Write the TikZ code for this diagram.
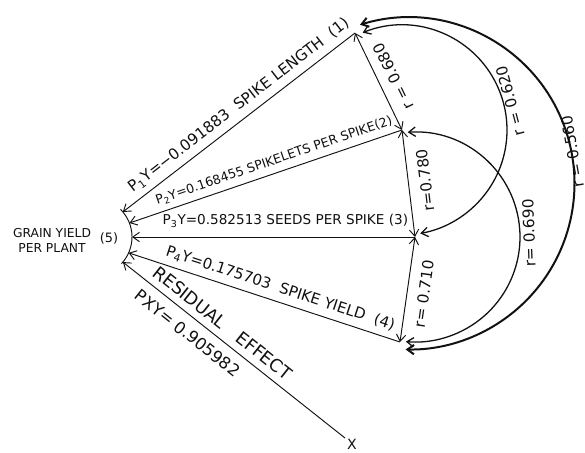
\documentclass[tikz,border=0pt]{standalone}
\usepackage{fontspec}
\setmainfont{DejaVu Sans}
\usetikzlibrary{arrows.meta, calc}
\definecolor{cink}{HTML}{111111}
\newcommand{\fsz}[2]{\fontsize{#1}{#2}\selectfont}
\tikzset{
  every picture/.style={line width=0.8pt},
  path arrow/.style={-{Straight Barb[length=2mm, width=2.8mm]}, draw=cink},
  corr/.style={{Straight Barb[length=2mm, width=2.8mm]}-{Straight Barb[length=2mm, width=2.8mm]}, draw=cink},
  lab/.style={inner sep=1pt, text=cink},
}

\begin{document}
\begin{tikzpicture}[x=0.3mm, y=0.3mm,
    plab/.style={lab, sloped, above=4pt},
    rlab/.style={lab, font=\fsz{13}{15}},
  ]
  \useasboundingbox (0,0) rectangle (585,452);

  % the variables
  \coordinate (p1) at (355,419);
  \coordinate (p2) at (402,322);
  \coordinate (p3) at (415,215);
  \coordinate (p4) at (400,110);
  \coordinate (xr) at (345,14);
  \coordinate (m23) at ($(p2)!0.5!(p3)$);

  % grain yield (5)
  \coordinate (c5) at (93,215);
  \coordinate (e1) at ($(c5)+(40:39)$);
  \coordinate (e2) at ($(c5)+(21:39)$);
  \coordinate (e3) at ($(c5)+(0:39)$);
  \coordinate (e4) at ($(c5)+(-24:39)$);
  \coordinate (er) at ($(c5)+(-40:39)$);
  \draw[cink] ($(c5)+(-43:39)$) arc[start angle=-43, end angle=45, radius=39];
  \node[lab, align=center, font=\fsz{10.5}{12.8}] (yield) at (52,212) {GRAIN YIELD\\PER PLANT};
  \node[lab, font=\fsz{11}{13}] (n5) at (109,214) {(5)};

  % path coefficients
  \draw[path arrow] (p1) -- node[plab, pos=0.465, font=\fsz{13}{15}] {P\textsubscript{1}Y=−0.091883\ \ SPIKE LENGTH\ \ (1)} (e1);
  \draw[path arrow] (p2) -- node[plab, pos=0.455, font=\fsz{10.8}{13}] {P\textsubscript{2}Y=0.168455 SPIKELETS PER SPIKE(2)} (e2);
  \draw[path arrow] (p3) -- node[plab, pos=0.458, above=3pt, font=\fsz{11.6}{14}] {P\textsubscript{3}Y=0.582513 SEEDS PER SPIKE (3)} (e3);
  \draw[path arrow] (p4) -- node[plab, pos=0.456, font=\fsz{12.8}{15}] {P\textsubscript{4}Y=0.175703\ \ SPIKE YIELD\ \ (4)} (e4);
  \draw[path arrow] (xr) -- node[plab, pos=0.59, above=1pt, font=\fsz{15}{17}] {RESIDUAL\quad EFFECT}
    node[lab, sloped, pos=0.665, below=6.5pt, font=\fsz{14}{16}] {PXY= 0.905982} (er);
  \node[lab, font=\fsz{12}{14}] (xlab) at (352,8) {X};

  % correlations
  \draw[corr] (p2) -- node[rlab, pos=0.48, sloped, allow upside down, below=7pt] {r = 0.680} (p1);
  \draw[corr] (p3) -- node[rlab, pos=0.51, sloped, allow upside down, below=8pt] {r=0.780} (p2);
  \draw[corr] (p4) -- node[rlab, pos=0.48, sloped, below=8pt] {r= 0.710} (p3);
  \draw[corr, line width=1.1pt] ($(p2)+(112:105)$) arc[start angle=112, end angle=-80, radius=105];
  \draw[corr, line width=1.1pt] ($(p3)+(94:105)$) arc[start angle=94, end angle=-95, radius=105];
  \draw[corr, line width=1.7pt] ($(m23)+(107:166)$) arc[start angle=107, end angle=-91, radius=166];
  \node[rlab, rotate=105] (r13) at ($(p2)+(15:112)$) {r = 0.620};
  \node[rlab, rotate=92] (r24) at ($(p3)+(2:114)$) {r= 0.690};
  \node[rlab, rotate=100] (r14) at ($(m23)+(11:167)$) {r = 0.560};
\end{tikzpicture}
\end{document}
